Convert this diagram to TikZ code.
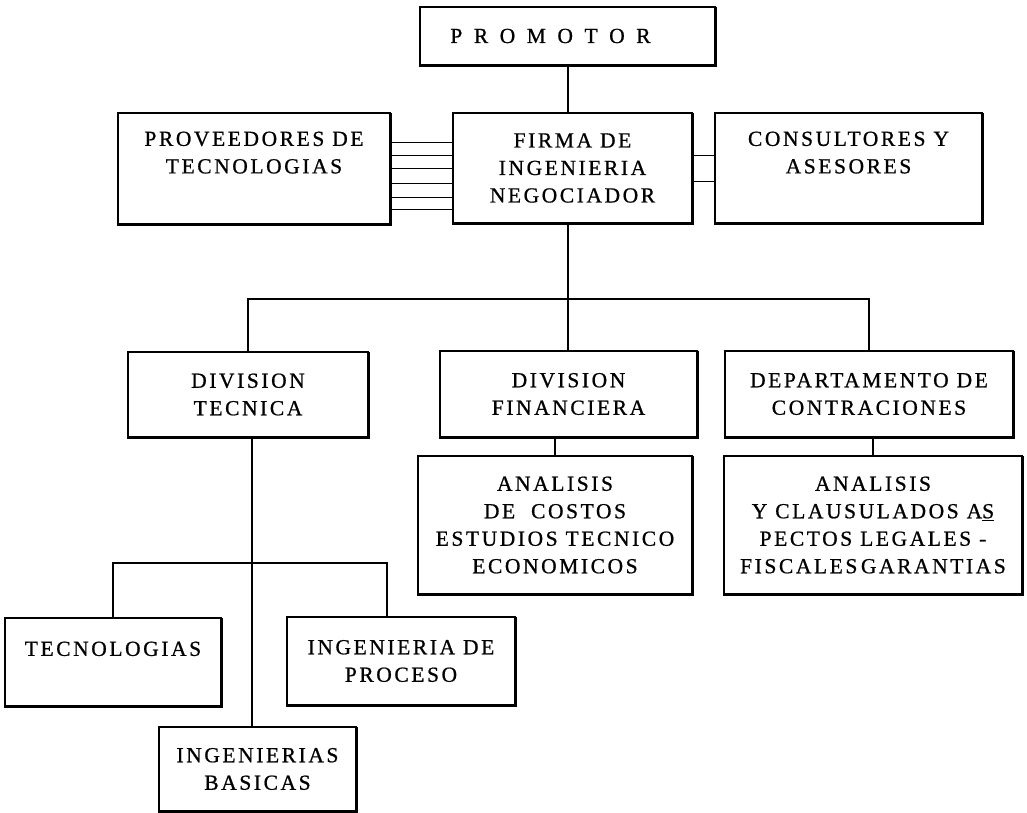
\documentclass[tikz,border=0pt]{standalone}
\usepackage{fontspec}
\setmainfont[LetterSpace=12,FakeBold=0.8]{Liberation Serif}

\begin{document}
\begin{tikzpicture}[x=1pt,y=1pt,
    caja/.style={draw, line width=1.1pt, inner sep=0pt},
    txt/.style={align=center, inner sep=0pt, font=\fontsize{21.5}{27.5}\selectfont},
    liga/.style={line width=1.1pt}]
\useasboundingbox (0,0) rectangle (1027,813);
% nivel superior
\node[caja, minimum width=295pt, minimum height=58pt] (promotor) at (567.5,777) {};
\node[txt] (promotortxt) at ([xshift=-17pt]promotor.center) {P\, R\, O\, M\, O\, T\, O\, R};
\node[caja, minimum width=272pt, minimum height=111pt] (prov) at (254,644.5) {};
\node[txt, below=19pt] (provtxt) at (prov.north) {PROVEEDORES DE\\TECNOLOGIAS};
\node[caja, txt, minimum width=239pt, minimum height=110pt] (firma) at (572.5,645) {FIRMA DE\\INGENIERIA\\NEGOCIADOR};
\node[caja, minimum width=267pt, minimum height=110pt] (consul) at (848.5,645) {};
\node[txt, below=19pt] (consultxt) at (consul.north) {CONSULTORES Y\\ASESORES};
% divisiones
\node[caja, txt, minimum width=240pt, minimum height=85pt] (divtec) at (248,418.5) {DIVISION\\TECNICA};
\node[caja, txt, minimum width=257pt, minimum height=86pt] (divfin) at (568.5,419) {DIVISION\\FINANCIERA};
\node[caja, txt, minimum width=288pt, minimum height=86pt] (depto) at (869,419) {DEPARTAMENTO DE\\CONTRACIONES};
\node[caja, txt, minimum width=274pt, minimum height=138pt] (costos) at (555,288) {ANALISIS\\DE~~COSTOS\\ESTUDIOS TECNICO\\ECONOMICOS};
\node[caja, txt, minimum width=298pt, minimum height=138pt] (clausul) at (873,288) {ANALISIS\\Y CLAUSULADOS A\underline{S}\\PECTOS LEGALES -\\FISCALES\,GARANTIAS};
% division tecnica
\node[caja, minimum width=216pt, minimum height=88pt] (tecno) at (113,151) {};
\node[txt, below=24pt] (tecnotxt) at (tecno.north) {TECNOLOGIAS};
\node[caja, txt, minimum width=228pt, minimum height=88pt] (proceso) at (401,152) {INGENIERIA DE\\PROCESO};
\node[caja, txt, minimum width=197pt, minimum height=84pt] (basicas) at (257.5,44) {INGENIERIAS\\BASICAS};
% sombra de las cajas
\foreach \n in {promotor,prov,firma,consul,divtec,divfin,depto,costos,clausul,tecno,proceso,basicas}
  \draw[line width=2.6pt] ([yshift=-1pt]\n.north east) -- (\n.south east) -- (\n.south west);
% lineas
\coordinate (bus) at (568,514);
\coordinate (sub) at (252,250);
\draw[liga] (bus |- promotor.south) -- (bus |- firma.north);
\draw[liga] (bus |- firma.south) -- (bus |- divfin.north);
\draw[liga] (divtec.north) |- (bus) -| (depto.north);
\draw[liga] (costos.north |- divfin.south) -- (costos.north);
\draw[liga] (clausul.north |- depto.south) -- (clausul.north);
\draw[liga] (sub |- divtec.south) -- (sub |- basicas.north);
\draw[liga] (tecno.north) |- (sub) -| ([xshift=-14pt]proceso.north);
\foreach \dy in {30,43,56,71,85,97}
  \draw[line width=0.8pt] ([yshift=-\dy pt]prov.north east) -- ([yshift=-\dy pt]firma.north west);
\foreach \dy in {43,69}
  \draw[line width=0.8pt] ([yshift=-\dy pt]firma.north east) -- ([yshift=-\dy pt]consul.north west);
\end{tikzpicture}
\end{document}
